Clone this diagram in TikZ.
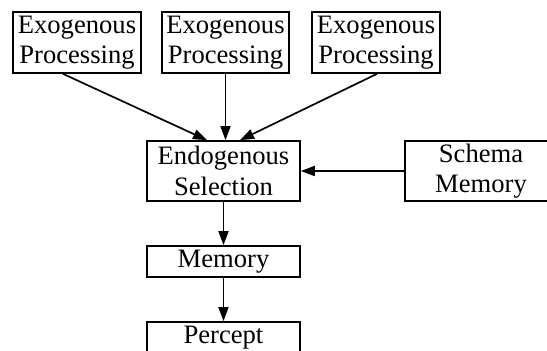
\documentclass[tikz,border=0pt]{standalone}
\usepackage{fontspec}
\setmainfont{Liberation Serif}
\usetikzlibrary{arrows.meta}
\begin{document}
\begin{tikzpicture}[x=1pt,y=-1pt,
  box/.style={draw,line width=1.7pt,inner sep=0pt,align=center,
    font=\fontsize{26.6}{30.5}\selectfont,minimum height=#1},
  box/.default=61pt,
  conn/.style={line width=1.7pt,-{Triangle[length=14pt,width=10pt]}}]
\useasboundingbox (0,0) rectangle (547,351);
\clip (0,0) rectangle (547,351);
\node[box,minimum width=128pt] (e1) at (77,42.5) {Exogenous\\Processing};
\node[box,minimum width=127pt] (e2) at (225.5,42.5) {Exogenous\\Processing};
\node[box,minimum width=128pt] (e3) at (376,42.5) {Exogenous\\Processing};
\node[box=60pt,minimum width=153pt] (endo) at (223.5,171) {Endogenous\\Selection};
\node[box=60pt,minimum width=152pt] (schema) at (481,171) {Schema\\Memory};
\node[box=31pt,minimum width=153pt] (mem) at (223.5,261.5) {Memory};
\node[box=31pt,minimum width=153pt] (perc) at (223.5,337.5) {Percept};
\draw[conn] ([xshift=-14pt]e1.south) -- ([xshift=-16.5pt]endo.north);
\draw[conn] (e2.south) -- (e2.south |- endo.north);
\draw[conn] ([xshift=1pt]e3.south) -- ([xshift=16.5pt]endo.north);
\draw[conn] (schema.west) -- (endo.east);
\draw[conn] (endo.south) -- (mem.north);
\draw[conn] (mem.south) -- (perc.north);
\end{tikzpicture}
\end{document}
